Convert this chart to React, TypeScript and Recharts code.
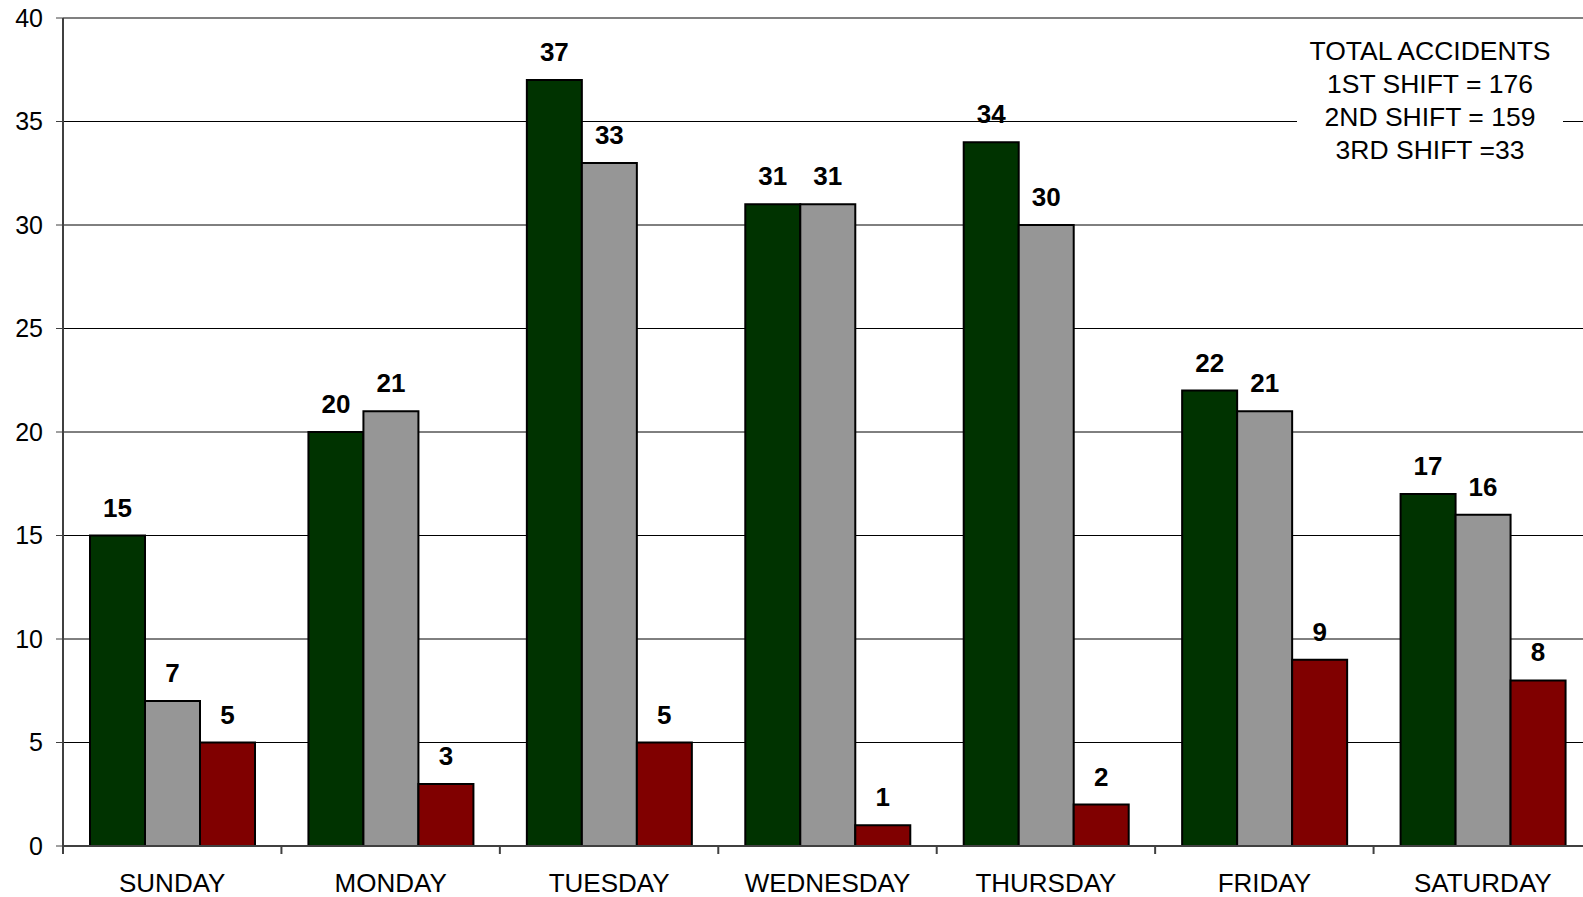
import React from 'react';
import { BarChart, Bar, XAxis, YAxis, CartesianGrid, LabelList, ReferenceLine } from 'recharts';

const days = ['SUNDAY', 'MONDAY', 'TUESDAY', 'WEDNESDAY', 'THURSDAY', 'FRIDAY', 'SATURDAY'];
const firstShift = [15, 20, 37, 31, 34, 22, 17];
const secondShift = [7, 21, 33, 31, 30, 21, 16];
const thirdShift = [5, 3, 5, 1, 2, 9, 8];
const yTicks = [0, 5, 10, 15, 20, 25, 30, 35, 40];

const data = days.map((day, i) => ({
  day,
  first: firstShift[i],
  second: secondShift[i],
  third: thirdShift[i],
}));

const sum = (arr: number[]) => arr.reduce((a, b) => a + b, 0);

const FONT = '"Liberation Sans", Arial, sans-serif';
const AXIS = '#404040';

// category label centred in the band, tick mark on the band's left edge
const DayTick = (props: any) => {
  const { x, y, payload } = props;
  const left = x - (payload.offset || 0);
  return (
    <g>
      <line x1={left} y1={y - 8} x2={left} y2={y} stroke={AXIS} strokeWidth={2} />
      <text x={x} y={y + 38} textAnchor="middle" fontSize={26} fontFamily={FONT} fill="#000">
        {payload.value}
      </text>
    </g>
  );
};

const labelStyle = { fontSize: 26, fontWeight: 700, fontFamily: FONT, fill: '#000' };

export default function App() {
  return (
    <div
      style={{
        position: 'fixed',
        top: 0,
        left: 0,
        width: 1583,
        height: 897,
        overflow: 'hidden',
        background: '#fff',
      }}
    >
      <BarChart
        width={1600}
        height={897}
        data={data}
        margin={{ top: 18, right: 8, bottom: 0, left: 0 }}
        barCategoryGap={27}
        barGap={0}
      >
        <CartesianGrid vertical={false} stroke="#000" strokeWidth={1} />
        <XAxis
          dataKey="day"
          height={51}
          tickSize={8}
          tickMargin={0}
          tickLine={false}
          axisLine={{ stroke: AXIS, strokeWidth: 2 }}
          tick={<DayTick />}
          interval={0}
        />
        <YAxis
          width={63}
          domain={[0, 40]}
          ticks={yTicks}
          interval={0}
          tickSize={7}
          tickMargin={13}
          axisLine={{ stroke: AXIS, strokeWidth: 2 }}
          tickLine={{ stroke: AXIS, strokeWidth: 1 }}
          tick={{ fontSize: 25, fontFamily: FONT, fill: '#000' }}
        />
        <ReferenceLine y={40} stroke="#808080" strokeWidth={2} />
        <Bar dataKey="first" fill="#003300" stroke="#000" strokeWidth={2} isAnimationActive={false}>
          <LabelList dataKey="first" position="top" offset={19} style={labelStyle} />
        </Bar>
        <Bar dataKey="second" fill="#969696" stroke="#000" strokeWidth={2} isAnimationActive={false}>
          <LabelList dataKey="second" position="top" offset={19} style={labelStyle} />
        </Bar>
        <Bar dataKey="third" fill="#800000" stroke="#000" strokeWidth={2} isAnimationActive={false}>
          <LabelList dataKey="third" position="top" offset={19} style={labelStyle} />
        </Bar>
      </BarChart>
      <div
        style={{
          position: 'absolute',
          left: 1297,
          top: 35,
          width: 266,
          background: '#fff',
          textAlign: 'center',
          fontFamily: FONT,
          fontSize: 26.5,
          lineHeight: '33px',
          color: '#000',
        }}
      >
        <div>TOTAL ACCIDENTS</div>
        <div>1ST SHIFT = {sum(firstShift)}</div>
        <div>2ND SHIFT = {sum(secondShift)}</div>
        <div>3RD SHIFT ={sum(thirdShift)}</div>
      </div>
    </div>
  );
}
